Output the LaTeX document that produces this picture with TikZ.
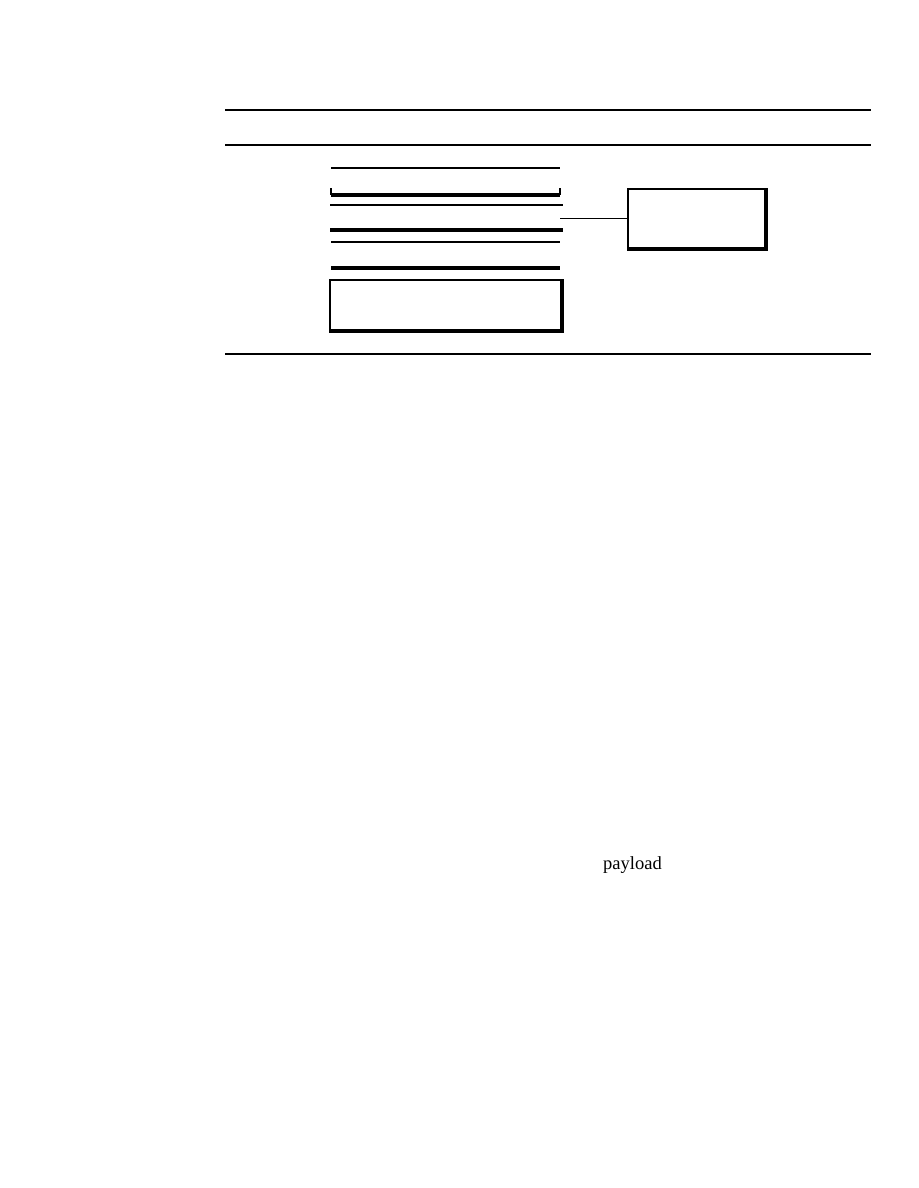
\documentclass[tikz,border=0pt]{standalone}
\usepackage{fontspec}
\setmainfont{Liberation Serif}
\usetikzlibrary{positioning}
\tikzset{rule/.style={line width=0.9pt},
  heavy/.style={line width=2.7pt},
  link/.style={line width=1.2pt},
  frame/.style={draw,line width=0.9pt,inner sep=0pt}}

\begin{document}
\begin{tikzpicture}[x=0.023519cm,y=-0.023519cm]
\useasboundingbox (0,0) rectangle (918,1188);
% page rules
\draw[rule] (225,110) -- (871,110);
\draw[rule] (225,145) -- (871,145);
\draw[rule] (225,354) -- (871,354);
% stack of layers
\draw[rule] (331,168) -- (560,168);
\draw[rule] (331,188) -- (331,195);
\draw[rule] (560,188) -- (560,195);
\draw[heavy] (331,195) -- (560,195);
\draw[rule] (330,205) -- (563,205);
\draw[heavy] (330,230) -- (563,230);
\draw[rule] (331,242) -- (560,242);
\draw[heavy] (331,268) -- (560,268);
\node[frame,minimum width=154.6pt,minimum height=33.5pt] (base) at (445.5,305) {};
\draw[heavy] (base.north east) -- (base.south east) -- (base.south west);
% side box
\node[frame,minimum width=91.7pt,minimum height=39.5pt] (side) at (696.5,218.5) {};
\draw[heavy] (side.north east) -- (side.south east) -- (side.south west);
\coordinate (tap) at (560,218.5);
\draw[link] (tap) -- (side.west);
% label
\node[anchor=base,font=\fontsize{12.4}{15}\selectfont] (pay) at (632.5,869) {payload};
\end{tikzpicture}
\end{document}
